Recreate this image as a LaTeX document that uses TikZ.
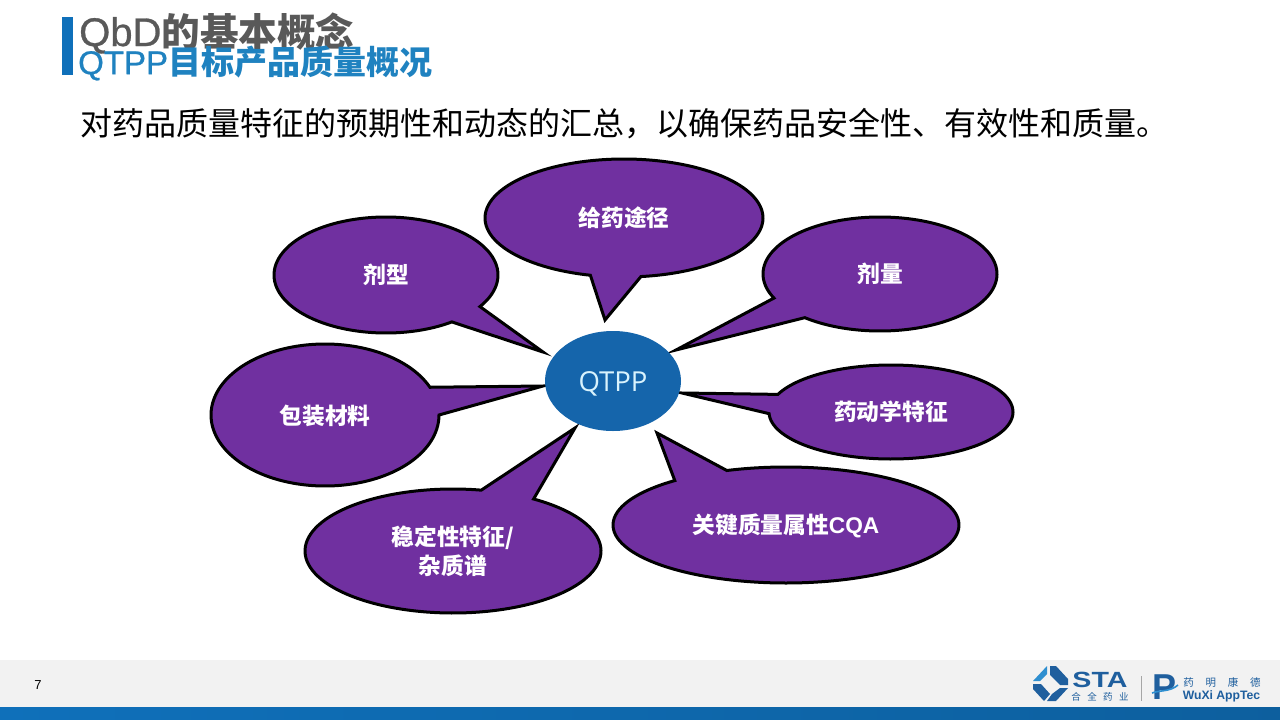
\documentclass[tikz,border=0pt]{standalone}
\usepackage{fontspec}
\usetikzlibrary{shapes.geometric}
\setmainfont{Liberation Sans}
\newfontfamily\cjk{Noto Sans CJK SC}
\newcommand{\cjkb}{\cjk\bfseries}
\newfontfamily\lat{Open Sans}
\newfontfamily\latm[FakeBold=0.7]{Liberation Sans}
\definecolor{bubble}{HTML}{7030A0}
\definecolor{qblue}{HTML}{1565AB}
\definecolor{barblue}{HTML}{0F70BA}
\definecolor{titlegrey}{HTML}{595959}
\definecolor{titleblue}{HTML}{1F82C0}
\definecolor{foot}{HTML}{F2F2F2}
\definecolor{logoblue}{HTML}{1F5F9E}
\definecolor{logolight}{HTML}{2E8FD0}
\tikzset{
  bubbleshape/.style={draw=black,line width=3pt,fill=bubble,line join=miter,miter limit=10},
  bubbletext/.style={text=white,font=\fontsize{22.7}{26}\selectfont\cjkb,align=center,inner sep=0pt},
  tsize/.style={inner sep=0pt,anchor=west}
}
% cx cy rx ry start end tipx tipy
\newcommand{\callout}[8]{%
  \draw[bubbleshape] plot[domain=#5:#6,samples=120,smooth] ({#1+#3*cos(\x)},{#2+#4*sin(\x)}) -- (#7,#8) -- cycle;
}
\begin{document}
\begin{tikzpicture}[x=1pt,y=-1pt]
\useasboundingbox (0,0) rectangle (1280,720);
\fill[white] (0,0) rectangle (1280,720);
% footer
\fill[foot] (0,660) rectangle (1280,707);
\shade[left color=barblue,right color=barblue!85!black] (0,707) rectangle (1280,720);
% title
\fill[barblue] (62,17) rectangle (73,75);
\node[tsize,text=titlegrey] (t1) at (79,33) {\fontsize{40}{42}\selectfont\latm QbD{\fontsize{38.6}{42}\selectfont\cjkb 的基本概念}};
\node[tsize,text=titleblue] (t2) at (78,63) {\fontsize{33}{38}\selectfont\latm QTPP\cjkb 目标产品质量概况};
\node[tsize,text=black] (sub) at (80,124) {\fontsize{32}{36}\selectfont\cjk 对药品质量特征的预期性和动态的汇总，以确保药品安全性、有效性和质量。};
% bubbles
\callout{624}{218}{139}{59}{104}{443}{605}{320}
\callout{386}{275}{112}{58}{54}{393}{543}{352}
\callout{880}{274}{117}{57}{155}{490}{676}{350}
\callout{325}{415}{114}{71}{0}{337}{543}{386}
\callout{891}{412}{122}{47}{202}{538}{682}{393}
\callout{786}{525}{173}{58}{250}{590}{657}{433}
\callout{453}{551}{148}{62}{303}{641}{575}{428}
\node[bubbletext] (b1) at (624,218) {给药途径};
\node[bubbletext] (b2) at (386,275) {剂型};
\node[bubbletext] (b3) at (880,274) {剂量};
\node[bubbletext] (b4) at (325,416) {包装材料};
\node[bubbletext] (b5) at (891,412) {药动学特征};
\node[bubbletext] (b6) at (786,526) {关键质量属性{\rmfamily\bfseries CQA}};
\node[bubbletext,font=\fontsize{22.7}{29}\selectfont\cjkb] (b7) at (453,551) {稳定性特征/\\杂质谱};
% centre
\node[ellipse,fill=qblue,minimum width=136pt,minimum height=100pt,inner sep=0pt,text=white!85!cyan,font=\fontsize{27.5}{30}\selectfont\lat] (q) at (613,381) {\raisebox{-10pt}[0pt][0pt]{QTPP}};
% page number
\node[inner sep=0pt,font=\fontsize{13}{15}\selectfont] (pg) at (38,685) {7};
% logo STA ring
\fill[logoblue] (1050,666) -- (1056,666) -- (1068,679) -- (1068,685) -- (1060,685) -- (1050,675) -- cycle;
\fill[logoblue] (1068,688) -- (1056,701) -- (1047,701) -- (1052,694) -- (1060,688) -- cycle;
\fill[logoblue] (1044,701) -- (1033,689) -- (1033,684) -- (1041,684) -- (1050,694) -- cycle;
\fill[logolight] (1033,681) -- (1047,666) -- (1047,674) -- (1040,681) -- cycle;
\node[inner sep=0pt,text=logoblue,xscale=1.3,font=\fontsize{22}{24}\selectfont\bfseries] (sta) at (1100,680) {STA};
\node[inner sep=0pt,text=logoblue,font=\fontsize{9.5}{11}\selectfont\cjk] (sta2) at (1100,697) {合\ \ \ 全\ \ \ 药\ \ \ 业};
\draw[gray!70,line width=.7pt] (1141,676) -- (1141,701);
% logo WuXi
\node[inner sep=0pt,text=logoblue,font=\fontsize{36}{36}\selectfont\bfseries] (p) at (1164,687) {P};
\draw[logolight,line width=1.6pt] (1152,693) .. controls (1160,690) and (1170,692) .. (1178,685);
\node[inner sep=0pt,text=logoblue,font=\fontsize{10.5}{12}\selectfont\cjk] (wx1) at (1222,682) {药\ \ \ \ \ 明\ \ \ \ \ 康\ \ \ \ \ 德};
\node[inner sep=0pt,text=logoblue,font=\fontsize{12.2}{14}\selectfont\bfseries] (wx2) at (1221.5,696) {WuXi AppTec};
\end{tikzpicture}
\end{document}
